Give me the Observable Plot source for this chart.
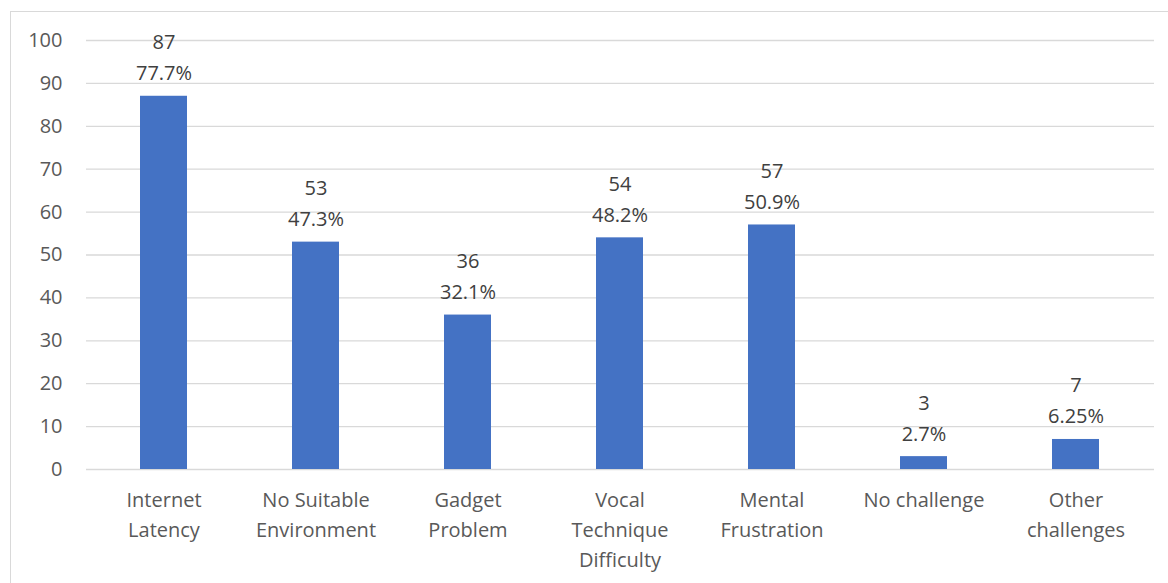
<!DOCTYPE html>
<html><head><meta charset="utf-8">
<script src="https://cdn.jsdelivr.net/npm/d3@7"></script>
<script src="https://cdn.jsdelivr.net/npm/@observablehq/plot@0.6"></script>
<style>
html,body{margin:0;padding:0;background:#fff;}
#wrap{position:relative;width:1168px;height:583px;overflow:hidden;}
#border{position:absolute;left:10px;top:11px;width:1200px;height:600px;border-left:1px solid #d9d9d9;border-top:1px solid #d9d9d9;}
#chart{position:absolute;left:0;top:0;}
</style></head>
<body><div id="wrap"><div id="border"></div><div id="chart"></div></div>
<script>
const categories = ["Internet Latency","No Suitable Environment","Gadget Problem","Vocal Technique Difficulty","Mental Frustration","No challenge","Other challenges"];
const tickLabels = ["Internet\nLatency","No Suitable\nEnvironment","Gadget\nProblem","Vocal\nTechnique\nDifficulty","Mental\nFrustration","No challenge","Other\nchallenges"];
const counts = [87,53,36,54,57,3,7];
const percents = ["77.7%","47.3%","32.1%","48.2%","50.9%","2.7%","6.25%"];
const yTicks = [0,10,20,30,40,50,60,70,80,90,100];

const data = categories.map((c,i)=>({cat:c, n:counts[i], label: counts[i] + "\n" + percents[i]}));
const labelMap = new Map(categories.map((c,i)=>[c,tickLabels[i]]));
const font = "'Open Sans', Lato, sans-serif";

const chart = Plot.plot({
  width:1168, height:583,
  marginLeft:86, marginRight:14, marginTop:40, marginBottom:114,
  style:{fontFamily:font, fontSize:"20px", color:"#595959", background:"transparent"},
  x:{domain:categories, paddingInner:0.69, paddingOuter:0.345, axis:null, label:null},
  y:{domain:[0,100], axis:null, label:null},
  marks:[
    Plot.ruleY(yTicks,{stroke:"#d9d9d9", strokeWidth:1.3}),
    Plot.barY(data,{x:"cat", y:"n", fill:"#4472C4"}),
    Plot.text(data,{x:"cat", y:"n", text:"label", lineAnchor:"bottom", dy:-16, lineHeight:1.55, fontSize:20, fill:"#404040"}),
    Plot.axisY(yTicks,{tickSize:0, tickPadding:0, dx:-24, fontSize:20, fill:"#595959", label:null}),
    Plot.axisX({tickSize:0, tickFormat:d=>labelMap.get(d), lineAnchor:"top", dy:7, lineHeight:1.5, fontSize:20, fill:"#595959", label:null})
  ]
});
document.getElementById("chart").appendChild(chart);
</script></body></html>
